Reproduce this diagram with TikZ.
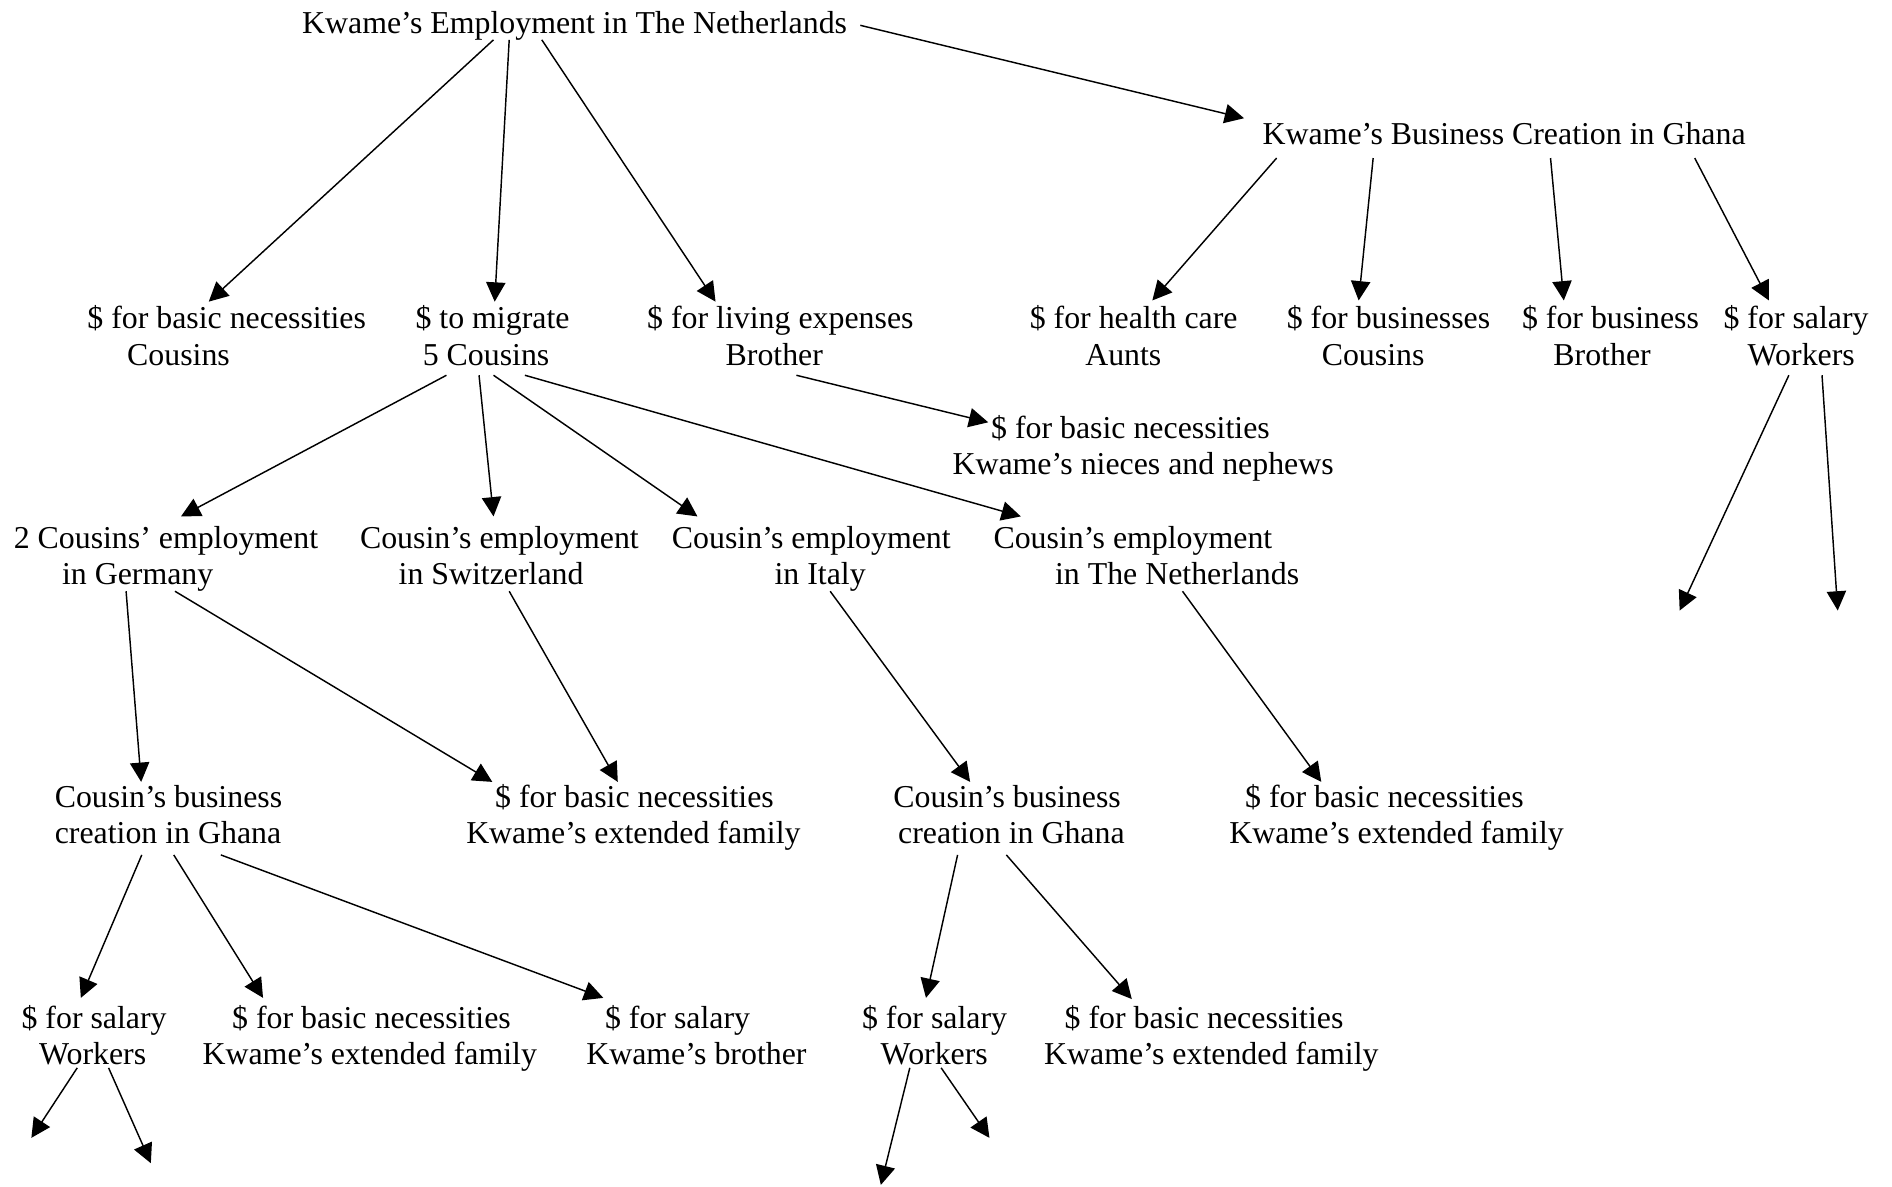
\documentclass[tikz,border=0pt]{standalone}
\usepackage{fontspec}
\setmainfont{Liberation Serif}
\usetikzlibrary{arrows.meta}
\newcommand\twol[2]{#1\strut\\#2\strut}
\begin{document}
\begin{tikzpicture}[x=0.5pt,y=-0.5pt,
  lbl/.style={anchor=west,inner sep=0pt,align=left,font=\fontsize{13.2pt}{15pt}\selectfont},
  arr/.style={-{Triangle[length=8pt,width=8pt]},line width=0.6pt}]
\useasboundingbox[fill=white] (0,0) rectangle (1568,983);
% nodes
\node[lbl] (T) at (250,22) {Kwame’s Employment in The Netherlands\strut};
\node[lbl] (B) at (1046,113.5) {Kwame’s Business Creation in Ghana\strut};
\node[lbl] (A1) at (72,281.5) {\twol{\$ for basic necessities}{\hspace*{16.5pt}Cousins}};
\node[lbl] (A2) at (344,281.5) {\twol{\$ to migrate}{\hspace*{3pt}5 Cousins}};
\node[lbl] (A3) at (536,281.5) {\twol{\$ for living expenses}{\hspace*{32.5pt}Brother}};
\node[lbl] (B1) at (853,281.5) {\twol{\$ for health care}{\hspace*{23pt}Aunts}};
\node[lbl] (B2) at (1066,281.5) {\twol{\$ for businesses}{\hspace*{14.5pt}Cousins}};
\node[lbl] (B3) at (1261,281.5) {\twol{\$ for business}{\hspace*{13pt}Brother}};
\node[lbl] (B4) at (1428,281.5) {\twol{\$ for salary}{\hspace*{10pt}Workers}};
\node[lbl] (N) at (789,372.5) {\twol{\hspace*{16pt}\$ for basic necessities}{Kwame’s nieces and nephews}};
\node[lbl] (C1) at (11,463.5) {\twol{2 Cousins’ employment}{\hspace*{20pt}in Germany}};
\node[lbl] (C2) at (298,463.5) {\twol{Cousin’s employment}{\hspace*{16pt}in Switzerland}};
\node[lbl] (C3) at (556.5,463.5) {\twol{Cousin’s employment}{\hspace*{42.5pt}in Italy}};
\node[lbl] (C4) at (823,463.5) {\twol{Cousin’s employment}{\hspace*{25.5pt}in The Netherlands}};
\node[lbl] (D1) at (45,678) {\twol{Cousin’s business}{creation in Ghana}};
\node[lbl] (D2) at (386,678) {\twol{\hspace*{12pt}\$ for basic necessities}{Kwame’s extended family}};
\node[lbl] (D3) at (740,678) {\twol{Cousin’s business}{\hspace*{2pt}creation in Ghana}};
\node[lbl] (D4) at (1018.5,678) {\twol{\hspace*{6.5pt}\$ for basic necessities}{Kwame’s extended family}};
\node[lbl] (E1) at (17.5,861.5) {\twol{\$ for salary}{\hspace*{7.25pt}Workers}};
\node[lbl] (E2) at (167.5,861.5) {\twol{\hspace*{12.25pt}\$ for basic necessities}{Kwame’s extended family}};
\node[lbl] (E3) at (485.5,861.5) {\twol{\hspace*{7.75pt}\$ for salary}{Kwame’s brother}};
\node[lbl] (E4) at (714,861.5) {\twol{\$ for salary}{\hspace*{7.75pt}Workers}};
\node[lbl] (E5) at (865,861.5) {\twol{\hspace*{8.5pt}\$ for basic necessities}{Kwame’s extended family}};
% free ends
\coordinate (f1) at (1392,506);
\coordinate (f2) at (1523,506);
\coordinate (f3) at (26,943);
\coordinate (f4) at (125,964);
\coordinate (f5) at (730,982);
\coordinate (f6) at (820,943);
% connectors
\draw[arr] ([shift={(159,11)}]T.west) -- ([shift={(101,-31.5)}]A1.west);
\draw[arr] ([shift={(172,11)}]T.west) -- ([shift={(66,-31.5)}]A2.west);
\draw[arr] ([shift={(199,11)}]T.west) -- ([shift={(57,-31.5)}]A3.west);
\draw[arr] ([shift={(463,-1)}]T.west) -- ([shift={(-15,-15.5)}]B.west);
\draw[arr] ([shift={(12,17.5)}]B.west) -- ([shift={(102,-32.5)}]B1.west);
\draw[arr] ([shift={(92,17.5)}]B.west) -- ([shift={(60,-32.5)}]B2.west);
\draw[arr] ([shift={(239,17.5)}]B.west) -- ([shift={(35,-32.5)}]B3.west);
\draw[arr] ([shift={(358.5,17.5)}]B.west) -- ([shift={(38,-32.5)}]B4.west);
\draw[arr] ([shift={(54.5,29.5)}]B4.west) -- (f1);
\draw[arr] ([shift={(82,29.5)}]B4.west) -- (f2);
\draw[arr] ([shift={(124,29.5)}]A3.west) -- ([shift={(30,-22.5)}]N.west);
\draw[arr] ([shift={(26,29.5)}]A2.west) -- ([shift={(139,-35.5)}]C1.west);
\draw[arr] ([shift={(53,29.5)}]A2.west) -- ([shift={(111,-35.5)}]C2.west);
\draw[arr] ([shift={(65,29.5)}]A2.west) -- ([shift={(21.5,-35.5)}]C3.west);
\draw[arr] ([shift={(91,29.5)}]A2.west) -- ([shift={(23,-35.5)}]C4.west);
\draw[arr] ([shift={(93.5,26.5)}]C1.west) -- ([shift={(72,-30)}]D1.west);
\draw[arr] ([shift={(134,26.5)}]C1.west) -- ([shift={(22,-30)}]D2.west);
\draw[arr] ([shift={(124,26.5)}]C2.west) -- ([shift={(126,-30)}]D2.west);
\draw[arr] ([shift={(131.5,26.5)}]C3.west) -- ([shift={(64,-30)}]D3.west);
\draw[arr] ([shift={(157,26.5)}]C4.west) -- ([shift={(76.5,-30)}]D4.west);
\draw[arr] ([shift={(72.5,30.5)}]D1.west) -- ([shift={(49.5,-34.5)}]E1.west);
\draw[arr] ([shift={(99,30.5)}]D1.west) -- ([shift={(50.5,-34.5)}]E2.west);
\draw[arr] ([shift={(138,30.5)}]D1.west) -- ([shift={(14.5,-34.5)}]E3.west);
\draw[arr] ([shift={(53.6,30.5)}]D3.west) -- ([shift={(53.4,-34.5)}]E4.west);
\draw[arr] ([shift={(94,30.5)}]D3.west) -- ([shift={(73,-33.5)}]E5.west);
\draw[arr] ([shift={(46.5,23.5)}]E1.west) -- (f3);
\draw[arr] ([shift={(72.5,23.5)}]E1.west) -- (f4);
\draw[arr] ([shift={(40,23.5)}]E4.west) -- (f5);
\draw[arr] ([shift={(66,23.5)}]E4.west) -- (f6);
\end{tikzpicture}
\end{document}
